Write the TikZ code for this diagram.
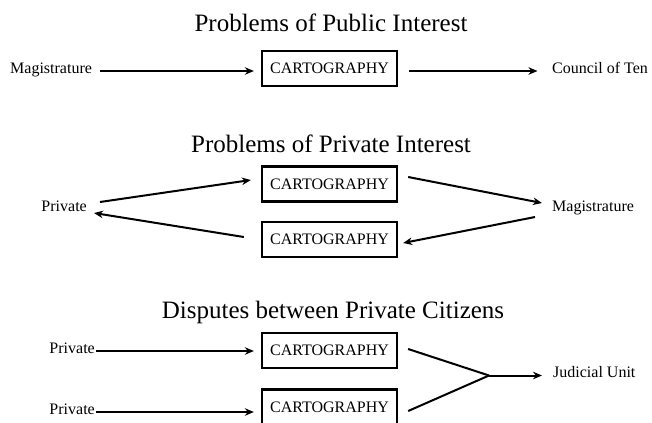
\documentclass[tikz,border=0pt]{standalone}
\usepackage{fontspec}
\setmainfont{Liberation Serif}
\usetikzlibrary{arrows.meta}

\begin{document}
\begin{tikzpicture}[x=1bp, y=-1bp,
  heading/.style={font=\fontsize{25bp}{30bp}\selectfont, inner sep=0pt, anchor=base},
  label/.style={font=\fontsize{16bp}{19bp}\selectfont, inner sep=0pt},
  cartbox/.style={draw, line width=2.3bp, minimum width=135bp, minimum height=35bp,
    inner sep=0pt, font=\fontsize{16bp}{19bp}\selectfont},
  arr/.style={line width=2bp, -{Stealth[length=9bp, width=7.5bp]}},
  link/.style={line width=2bp}
]
\useasboundingbox (0,0) rectangle (652,422);
\clip (0,0) rectangle (652,422);

% --- Problems of Public Interest ---
\node[heading] (t1) at (331,31) {Problems of Public Interest};
\node[cartbox] (b1) at (329.5,68.5) {CARTOGRAPHY};
\node[label, anchor=mid west] (m1) at (10,71) {Magistrature};
\node[label, anchor=mid west] (c1) at (552,71) {Council of Ten};
\draw[arr, shorten <=8bp, shorten >=7bp] (m1.mid east) -- (m1.mid east -| b1.west);
\draw[arr, shorten <=10.5bp, shorten >=14.5bp] (b1.east |- c1.mid west) -- (c1.mid west);

% --- Problems of Private Interest ---
\node[heading] (t2) at (331,152) {Problems of Private Interest};
\node[cartbox] (b2) at (329.5,184) {CARTOGRAPHY};
\node[cartbox] (b3) at (329.5,239.5) {CARTOGRAPHY};
\node[label, anchor=mid east] (p2) at (87,209) {Private};
\node[label, anchor=mid west] (m2) at (552,209) {Magistrature};
\draw[arr] ([shift={(13,-7)}]p2.mid east) -- ([shift={(-10,-4)}]b2.west);
\draw[arr] ([shift={(10,-7)}]b2.east) -- ([shift={(-10,-6)}]m2.mid west);
\draw[arr] ([shift={(-17,8)}]m2.mid west) -- ([shift={(5,3.5)}]b3.east);
\draw[arr] ([shift={(-17,-2.5)}]b3.west) -- ([shift={(7,4)}]p2.mid east);

% --- Disputes between Private Citizens ---
\node[heading] (t3) at (333,318) {Disputes between Private Citizens};
\node[cartbox] (b4) at (329.5,350.5) {CARTOGRAPHY};
\node[cartbox] (b5) at (329.5,407) {CARTOGRAPHY};
\node[label, anchor=mid east] (p3) at (95,351) {Private};
\node[label, anchor=mid east] (p4) at (95,412) {Private};
\node[label, anchor=mid west] (j3) at (553,375) {Judicial Unit};
\coordinate (join) at (489,375.5);
\draw[arr, shorten <=1bp, shorten >=7bp] (p3.mid east) -- (p3.mid east -| b4.west);
\draw[arr, shorten <=1bp, shorten >=7bp] (p4.mid east) -- (p4.mid east -| b5.west);
\draw[link] ([shift={(10,-1.5)}]b4.east) -- (join);
\draw[link] ([shift={(10,4)}]b5.east) -- (join);
\draw[arr, shorten >=11bp] (join) -- (join -| j3.mid west);
\end{tikzpicture}
\end{document}
